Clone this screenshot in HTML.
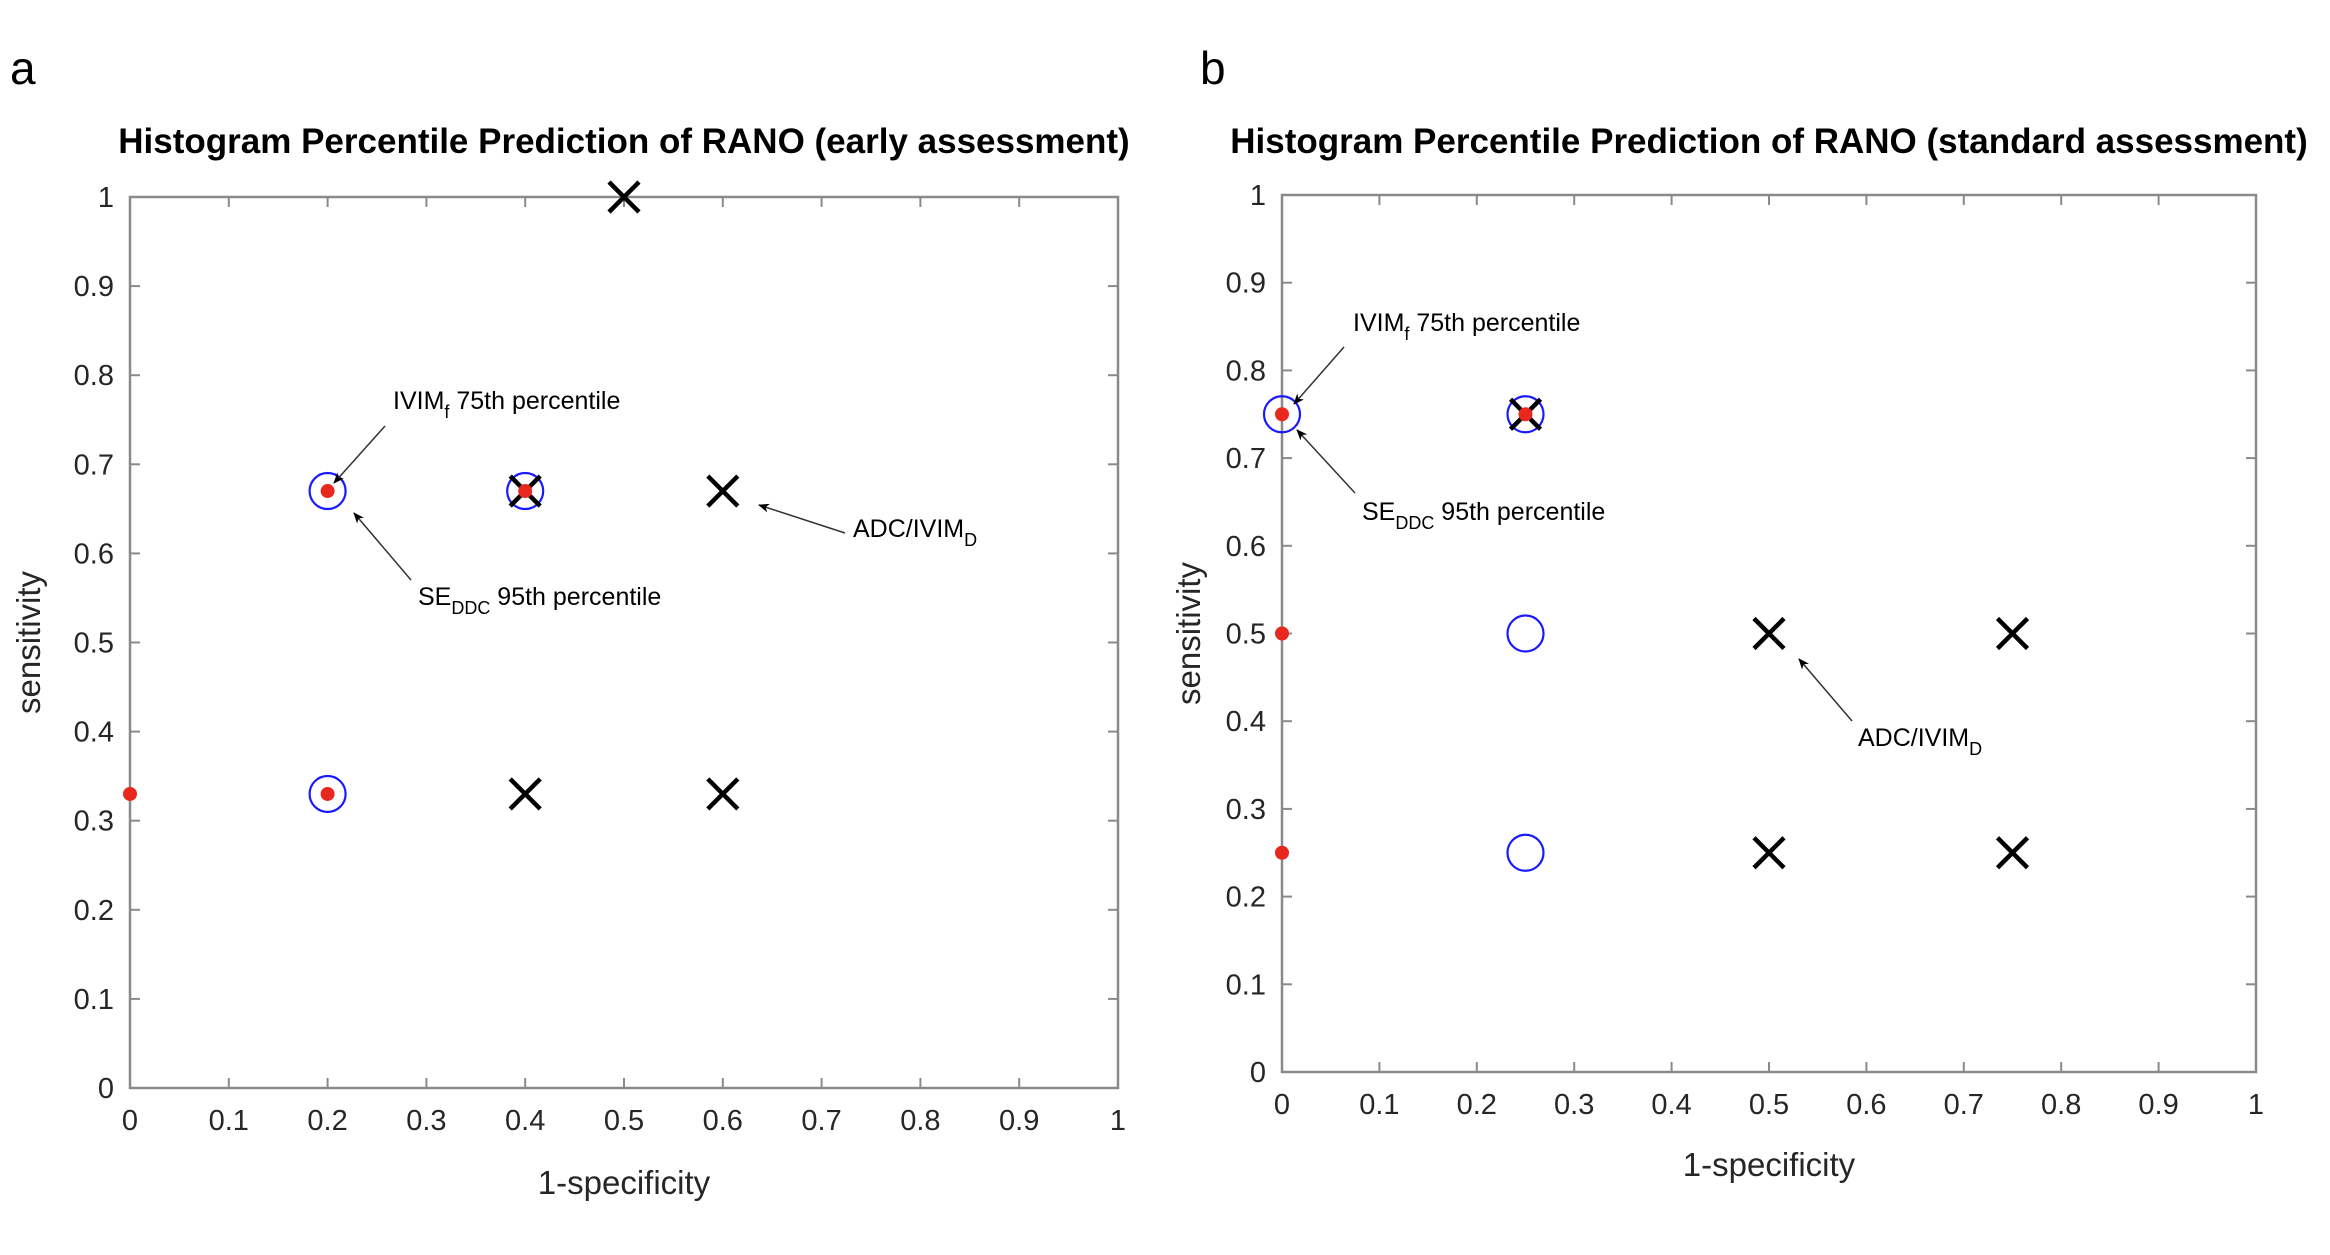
<!DOCTYPE html>
<html><head><meta charset="utf-8"><style>
html,body{margin:0;padding:0;background:#fff;}
svg text{font-family:"Liberation Sans",sans-serif;}
</style></head><body>
<svg id="fig" width="2330" height="1250" xmlns="http://www.w3.org/2000/svg">
<defs><marker id="ah" markerWidth="11" markerHeight="9" refX="10" refY="4.5" orient="auto" markerUnits="userSpaceOnUse"><path d="M0,0 L11,4.5 L0,9 L3,4.5 Z" fill="#000"/></marker></defs>
<text x="10" y="84" font-size="46" fill="#000">a</text>
<text x="1200" y="84" font-size="46" fill="#000">b</text>
</svg>
<script>
const ticks=[0,0.1,0.2,0.3,0.4,0.5,0.6,0.7,0.8,0.9,1];
const tickLabels=['0','0.1','0.2','0.3','0.4','0.5','0.6','0.7','0.8','0.9','1'];
const aCrossX=[0.5,0.4,0.6,0.4,0.6], aCrossY=[1,0.67,0.67,0.33,0.33];
const aCircX=[0.2,0.4,0.2], aCircY=[0.67,0.67,0.33];
const aDotX=[0.2,0.4,0,0.2], aDotY=[0.67,0.67,0.33,0.33];
const bCrossX=[0.25,0.5,0.75,0.5,0.75], bCrossY=[0.75,0.5,0.5,0.25,0.25];
const bCircX=[0,0.25,0.25,0.25], bCircY=[0.75,0.75,0.5,0.25];
const bDotX=[0,0.25,0,0], bDotY=[0.75,0.75,0.5,0.25];
const NS='http://www.w3.org/2000/svg';
const svg=document.getElementById('fig');
function mk(tag,attrs,parent){const e=document.createElementNS(NS,tag);for(const k in attrs)e.setAttribute(k,attrs[k]);(parent||svg).appendChild(e);return e;}
function panel(p){
  const g=mk('g',{});
  
  
  const sx=v=>p.x0+v*(p.x1-p.x0), sy=v=>p.y1-v*(p.y1-p.y0);
  const box=mk('rect',{x:p.x0,y:p.y0,width:p.x1-p.x0,height:p.y1-p.y0,fill:'none',stroke:'#8a8a8a','stroke-width':2.5},g);
  
  
  ticks.forEach((t,i)=>{
    const X=sx(t),Y=sy(t);
    mk('line',{x1:X,y1:p.y1,x2:X,y2:p.y1-10,stroke:'#8a8a8a','stroke-width':2},g);
    mk('line',{x1:X,y1:p.y0,x2:X,y2:p.y0+10,stroke:'#8a8a8a','stroke-width':2},g);
    mk('line',{x1:p.x0,y1:Y,x2:p.x0+10,y2:Y,stroke:'#8a8a8a','stroke-width':2},g);
    mk('line',{x1:p.x1,y1:Y,x2:p.x1-10,y2:Y,stroke:'#8a8a8a','stroke-width':2},g);
    const xl=mk('text',{x:X,y:p.y1+42,'font-size':29,'text-anchor':'middle',fill:'#262626'},g);xl.textContent=tickLabels[i];
    
    
    const yl=mk('text',{x:p.x0-16,y:Y+10,'font-size':29,'text-anchor':'end',fill:'#262626'},g);yl.textContent=tickLabels[i];
    
    
  });
  const ti=mk('text',{x:(p.x0+p.x1)/2,y:153,'font-size':35,'font-weight':'bold','text-anchor':'middle',fill:'#000'},g);ti.textContent=p.title;
  
  
  const xt=mk('text',{x:(p.x0+p.x1)/2,y:p.xlY,'font-size':33,'text-anchor':'middle',fill:'#262626'},g);xt.textContent='1-specificity';
  
  
  const yt=mk('text',{x:0,y:0,'font-size':33,'text-anchor':'middle',fill:'#262626',transform:`translate(${p.ylX},${(p.y0+p.y1)/2}) rotate(-90)`},g);yt.textContent='sensitivity';
  
  
  p.circX.forEach((v,i)=>{const c=mk('circle',{cx:sx(v),cy:sy(p.circY[i]),r:18,fill:'none',stroke:'#1a1aff','stroke-width':2.2},g);
    
    });
  p.crossX.forEach((v,i)=>{const X=sx(v),Y=sy(p.crossY[i]),d=15;
    const c=mk('path',{d:`M${X-d},${Y-d}L${X+d},${Y+d}M${X-d},${Y+d}L${X+d},${Y-d}`,stroke:'#000','stroke-width':4.5,fill:'none'},g);
    
    });
  p.dotX.forEach((v,i)=>{const c=mk('circle',{cx:sx(v),cy:sy(p.dotY[i]),r:7,fill:'#e8281e'},g);
    
    });
  p.ann.forEach(a=>{
    const l=mk('line',{x1:a.ax,y1:a.ay,x2:a.bx,y2:a.by,stroke:'#333','stroke-width':1.5,'marker-end':'url(#ah)'},g);
    
    
    const t=mk('text',{x:a.tx,y:a.ty,'font-size':25,fill:'#000'},g);
    t.innerHTML=a.html;
    
    
  });
}
const ivim='IVIM<tspan font-size="18" dy="9">f</tspan><tspan dy="-9">  75th percentile</tspan>';
const se='SE<tspan font-size="18" dy="9">DDC</tspan><tspan dy="-9"> 95th percentile</tspan>';
const adc='ADC/IVIM<tspan font-size="18" dy="9">D</tspan>';
panel({id:'early',x0:130,x1:1118,y0:197,y1:1088,title:'Histogram Percentile Prediction of RANO (early assessment)',xlY:1194,ylX:40,
 crossX:aCrossX,crossY:aCrossY,circX:aCircX,circY:aCircY,dotX:aDotX,dotY:aDotY,
 ann:[{ax:385,ay:426,bx:334,by:483,tx:393,ty:409,html:ivim},
      {ax:411,ay:580,bx:354,by:513,tx:418,ty:605,html:se},
      {ax:845,ay:533,bx:759,by:505,tx:853,ty:537,html:adc}]});
panel({id:'standard',x0:1282,x1:2256,y0:195,y1:1072,title:'Histogram Percentile Prediction of RANO (standard assessment)',xlY:1176,ylX:1200,
 crossX:bCrossX,crossY:bCrossY,circX:bCircX,circY:bCircY,dotX:bDotX,dotY:bDotY,
 ann:[{ax:1344,ay:347,bx:1294,by:404,tx:1353,ty:331,html:ivim},
      {ax:1355,ay:493,bx:1297,by:430,tx:1362,ty:520,html:se},
      {ax:1852,ay:721,bx:1799,by:659,tx:1858,ty:746,html:adc}]});
</script>
</body></html>
